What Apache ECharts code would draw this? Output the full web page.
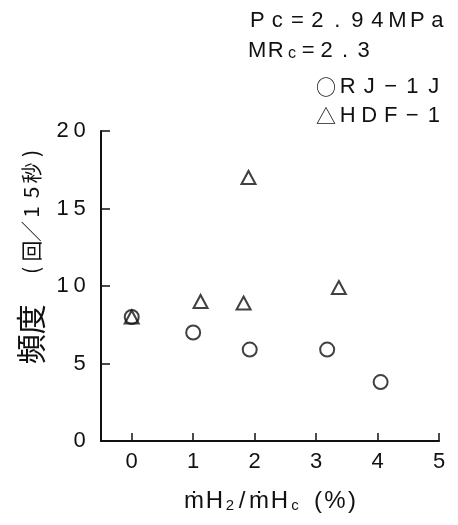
<!DOCTYPE html>
<html><head><meta charset="utf-8">
<script src="https://cdn.jsdelivr.net/npm/echarts@6/dist/echarts.min.js"></script>
<style>html,body{margin:0;padding:0;background:#fff}#c{width:458px;height:525px}</style>
</head><body><div id="c"></div>
<script>
const xTicks = [0, 1, 2, 3, 4, 5];
const yTicks = [0, 5, 10, 15, 20];
const rj1jX = [0, 1, 1.92, 3.18, 4.05];
const rj1jY = [8, 7, 5.9, 5.9, 3.8];
const hdf1X = [0, 1.12, 1.82, 1.9, 3.37];
const hdf1Y = [8, 9, 8.9, 17, 9.9];
const seriesNames = ['RJ-1J', 'HDF-1'];

const FONT = '"Liberation Sans", "Noto Sans CJK JP", sans-serif';
const CJK = '"Noto Sans CJK JP", sans-serif';
const INK = '#111';
const chart = echarts.init(document.getElementById('c'), null, {renderer: 'canvas'});
const cells = (str, st) => str.split('').map(ch => '{' + st + '|' + ch + '}').join('');
const cell = (size, w, fam, extra) => Object.assign({fontSize: size, fontFamily: fam || FONT, color: INK, fill: INK, width: w, align: 'center'}, extra || {});

chart.setOption({
  backgroundColor: '#fff',
  animation: false,
  textStyle: {fontFamily: FONT, color: INK},
  grid: {left: 101, right: 19, top: 131, bottom: 84},
  xAxis: {
    type: 'value', min: -0.5, max: 5,
    axisLine: {show: true, onZero: false, lineStyle: {color: INK, width: 2}},
    axisTick: {show: true, inside: true, length: 8, customValues: xTicks, lineStyle: {color: INK, width: 1.5}},
    axisLabel: {customValues: xTicks, fontSize: 22, margin: 10, color: INK, fontFamily: FONT},
    splitLine: {show: false},
    name: '{m|ṁ}{h|H}{s|2}{l|/}{m|ṁ}{h|H}{s|c}{g| }{p|(}{q|%}{p|)}',
    nameLocation: 'middle', nameGap: 48,
    nameTextStyle: {
      rich: {
        m: cell(24, 22), h: cell(24, 19),
        s: cell(15, 12, FONT, {verticalAlign: 'bottom', padding: [9, 0, 0, 0]}),
        l: cell(24, 12), g: cell(24, 12), p: cell(24, 10), q: cell(24, 24)
      }
    }
  },
  yAxis: {
    type: 'value', min: 0, max: 20, interval: 5,
    axisLine: {show: true, onZero: false, lineStyle: {color: INK, width: 2}},
    axisTick: {show: true, inside: true, length: 9, lineStyle: {color: INK, width: 1.5}},
    axisLabel: {margin: 13, formatter: v => cells(String(v), 'd'), rich: {d: cell(22, 17)}},
    splitLine: {show: false}
  },
  graphic: [
    {type: 'text', left: 250, top: 10, style: {text: cells('Pc=2.94MPa', 'n'), rich: {n: cell(22, 20)}}},
    {type: 'text', left: 248, top: 40, style: {text: '{n|M}{n|R}{s|c}{n|=}{n|2}{n|.}{n|3}',
      rich: {n: cell(22, 18.5), s: cell(16, 14, FONT, {verticalAlign: 'bottom'})}}},
    {type: 'text', left: 316, top: 76, style: {text: '{o|○}' + cells('RJ−1J', 'n'),
      rich: {o: cell(20, 22, CJK), n: cell(22, 21.5)}}},
    {type: 'text', left: 316, top: 105, style: {text: '{o|△}' + cells('HDF−1', 'n'),
      rich: {o: cell(20, 22, CJK), n: cell(22, 21.5)}}},
    {type: 'text', x: 31, y: 254, rotation: Math.PI / 2,
      style: {text: '{a|頻}{a|度}{g| }' + cells('(回／15秒)', 'b'), align: 'center', verticalAlign: 'middle',
        rich: {a: cell(30, 30, CJK), g: cell(19, 24), b: cell(21, 19.5, CJK)}}}
  ],
  series: [
    {name: seriesNames[0], type: 'scatter', symbol: 'circle', symbolSize: 14,
      itemStyle: {color: 'rgba(0,0,0,0)', borderColor: INK, borderWidth: 2},
      data: rj1jX.map((x, i) => [x, rj1jY[i]])},
    {name: seriesNames[1], type: 'scatter', symbol: 'triangle', symbolSize: [14, 13],
      itemStyle: {color: 'rgba(0,0,0,0)', borderColor: INK, borderWidth: 2},
      data: hdf1X.map((x, i) => [x, hdf1Y[i]])}
  ]
});
</script></body></html>
